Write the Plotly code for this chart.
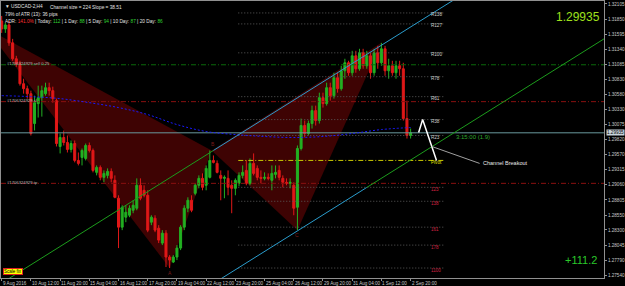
import plotly.graph_objects as go

# ---------------- data ----------------
bars = list(range(113))
date_ticks = [0, 8, 16, 24, 32, 40, 48, 56, 64, 72, 80, 88, 96, 104, 112]
date_labels = ["9 Aug 2016", "10 Aug 12:00", "11 Aug 20:00", "15 Aug 04:00", "16 Aug 12:00",
               "17 Aug 20:00", "19 Aug 04:00", "22 Aug 12:00", "23 Aug 20:00", "25 Aug 04:00",
               "26 Aug 12:00", "29 Aug 20:00", "31 Aug 04:00", "1 Sep 12:00", "2 Sep 20:00"]

opens = [1.31819, 1.31685, 1.31752, 1.31450, 1.31182, 1.31098, 1.30762, 1.30678, 1.30594, 1.30091,
         1.30427, 1.30527, 1.30594, 1.30695, 1.30645, 1.30477, 1.29705, 1.29856, 1.29772, 1.29655,
         1.29755, 1.29470, 1.29520, 1.29504, 1.29722, 1.29638, 1.29269, 1.29353, 1.29185, 1.29218,
         1.29285, 1.29135, 1.28833, 1.28346, 1.28514, 1.28547, 1.28631, 1.28665, 1.29051, 1.28967,
         1.28883, 1.28430, 1.28497, 1.28329, 1.28078, 1.28245, 1.27843, 1.27759, 1.27843, 1.27994,
         1.28346, 1.28665, 1.28799, 1.28916, 1.29051, 1.29168, 1.29051, 1.29185, 1.29470, 1.29420,
         1.29218, 1.29168, 1.29168, 1.29051, 1.29000, 1.29084, 1.29218, 1.29302, 1.29084, 1.29420,
         1.29336, 1.29185, 1.29168, 1.29185, 1.29135, 1.29235, 1.29302, 1.29168, 1.29101, 1.29084,
         1.29051, 1.28682, 1.29671, 1.30058, 1.29923, 1.30091, 1.30309, 1.30141, 1.30527, 1.30427,
         1.30695, 1.30561, 1.30863, 1.30678, 1.30980, 1.31115, 1.30947, 1.31232, 1.31014, 1.31282,
         1.31064, 1.31232, 1.30947, 1.31282, 1.31115, 1.31350, 1.30980, 1.31064, 1.30947, 1.31064,
         1.31014, 1.30175, 1.29890]
highs = [1.31903, 1.31786, 1.31819, 1.31517, 1.31232, 1.31148, 1.30846, 1.30729, 1.30645, 1.30561,
         1.30729, 1.30729, 1.30779, 1.30779, 1.30712, 1.30511, 1.29923, 1.29974, 1.29890, 1.29806,
         1.29806, 1.29604, 1.29671, 1.29755, 1.29772, 1.29671, 1.29386, 1.29386, 1.29302, 1.29336,
         1.29336, 1.29218, 1.28883, 1.28715, 1.28715, 1.28715, 1.28799, 1.29168, 1.29168, 1.29051,
         1.28967, 1.28547, 1.28547, 1.28380, 1.28296, 1.28296, 1.27876, 1.27876, 1.28044, 1.28380,
         1.28715, 1.28849, 1.28883, 1.29084, 1.29218, 1.29252, 1.29386, 1.29638, 1.29554, 1.29470,
         1.29302, 1.29218, 1.29302, 1.29135, 1.29168, 1.29269, 1.29386, 1.29470, 1.29504, 1.29588,
         1.29386, 1.29302, 1.29269, 1.29252, 1.29386, 1.29386, 1.29386, 1.29218, 1.29168, 1.29168,
         1.29101, 1.29722, 1.30175, 1.30141, 1.30141, 1.30393, 1.30393, 1.30611, 1.30611, 1.30779,
         1.30779, 1.30947, 1.30947, 1.31064, 1.31182, 1.31148, 1.31316, 1.31316, 1.31350, 1.31350,
         1.31316, 1.31282, 1.31350, 1.31400, 1.31450, 1.31400, 1.31182, 1.31148, 1.31148, 1.31148,
         1.31115, 1.30477, 1.30007]
lows = [1.31618, 1.31618, 1.31400, 1.31148, 1.31047, 1.30729, 1.30594, 1.30511, 1.29890, 1.29974,
        1.30192, 1.30208, 1.30561, 1.30561, 1.30443, 1.29705, 1.29588, 1.29722, 1.29604, 1.29604,
        1.29437, 1.29386, 1.29386, 1.29470, 1.29604, 1.29269, 1.29218, 1.29135, 1.29101, 1.29168,
        1.29101, 1.28833, 1.27994, 1.28296, 1.28430, 1.28514, 1.28581, 1.28631, 1.28799, 1.28849,
        1.28262, 1.28380, 1.28262, 1.28078, 1.28044, 1.27675, 1.27658, 1.27742, 1.27792, 1.27960,
        1.28296, 1.28598, 1.28598, 1.28883, 1.29000, 1.28967, 1.28967, 1.29168, 1.29420, 1.29252,
        1.28799, 1.28833, 1.28883, 1.28581, 1.28883, 1.29034, 1.29168, 1.29051, 1.29051, 1.29218,
        1.29135, 1.29084, 1.29135, 1.29135, 1.28967, 1.29168, 1.29135, 1.29017, 1.29051, 1.29000,
        1.28547, 1.28296, 1.29638, 1.29856, 1.29890, 1.30007, 1.30058, 1.30091, 1.30360, 1.30393,
        1.30477, 1.30511, 1.30611, 1.30645, 1.30846, 1.30896, 1.30896, 1.30947, 1.30980, 1.31014,
        1.31014, 1.30846, 1.30896, 1.31014, 1.31064, 1.30896, 1.30846, 1.30896, 1.30846, 1.30896,
        1.30141, 1.29839, 1.29839]
closes = [1.31685, 1.31752, 1.31450, 1.31182, 1.31098, 1.30762, 1.30678, 1.30594, 1.29923, 1.30443,
          1.30527, 1.30645, 1.30695, 1.30645, 1.30511, 1.29755, 1.29856, 1.29772, 1.29655, 1.29755,
          1.29470, 1.29420, 1.29638, 1.29722, 1.29638, 1.29302, 1.29353, 1.29185, 1.29252, 1.29285,
          1.29168, 1.28849, 1.28346, 1.28682, 1.28598, 1.28665, 1.28715, 1.29051, 1.28833, 1.28883,
          1.28296, 1.28514, 1.28296, 1.28128, 1.28245, 1.27843, 1.27792, 1.27843, 1.27994, 1.28346,
          1.28665, 1.28799, 1.28631, 1.29051, 1.29168, 1.29017, 1.29336, 1.29470, 1.29437, 1.29269,
          1.29168, 1.29185, 1.29017, 1.29000, 1.29135, 1.29218, 1.29269, 1.29084, 1.29420, 1.29252,
          1.29185, 1.29168, 1.29185, 1.29168, 1.29252, 1.29269, 1.29185, 1.29101, 1.29084, 1.29101,
          1.28665, 1.29671, 1.30058, 1.29923, 1.30091, 1.30309, 1.30141, 1.30527, 1.30427, 1.30695,
          1.30561, 1.30863, 1.30678, 1.30980, 1.31115, 1.30947, 1.31232, 1.31014, 1.31282, 1.31064,
          1.31232, 1.30947, 1.31282, 1.31115, 1.31350, 1.30980, 1.31064, 1.30947, 1.31064, 1.31014,
          1.30175, 1.29890, 1.29935]

ma_bars = [0, 8, 16, 24, 32, 40, 48, 56, 64, 72, 80, 88, 96, 104, 112]
ma_values = [1.30561, 1.30544, 1.30511, 1.30443, 1.30360, 1.30242, 1.30074, 1.29957, 1.29906,
             1.29873, 1.29856, 1.29873, 1.29923, 1.29990, 1.30024]

price_ticks = [1.32105, 1.31850, 1.31595, 1.31340, 1.31085, 1.30830, 1.30580, 1.30330, 1.30075,
               1.29820, 1.29570, 1.29315, 1.29060, 1.28805, 1.28550, 1.28300, 1.28045, 1.27790, 1.27540]
bid = 1.29935

fib_names = ["R138", "R127", "R100", "R78", "R61", "R38", "R23", "Pivot", "123", "138", "161", "178", "1100"]
fib_prices = [1.31954, 1.31769, 1.31282, 1.30880, 1.30544, 1.30158, 1.29890, 1.29470,
              1.29017, 1.28782, 1.28346, 1.28044, 1.27658]
fib_span = [64.8, 121.3]

order_names = ["#1706324929 sell 0.25", "#1706324929 sl", "#1706324929 tp"]
order_prices = [1.31081, 1.30460, 1.29084]
order_colors = ["#0a6a0a", "#8a1010", "#8a1010"]

# harmonic pattern points X, A, B, C, D (bar, price)
pat_x = [-4.4, 46, 57.5, 81, 104]
pat_y = [1.31702, 1.27658, 1.29638, 1.28296, 1.31450]

# channel line end points (bar, price)
up_green_x, up_green_y = [-1, 58], [1.27366, 1.29638]
up_cyan_x, up_cyan_y = [58, 124], [1.29638, 1.32180]
lo_cyan_x, lo_cyan_y = [40, 100], [1.26705, 1.29015]
lo_green_x, lo_green_y = [100, 166], [1.29015, 1.31557]

zig_x, zig_y = [114.2, 115.3, 119.1], [1.29940, 1.30158, 1.29470]
ptr_x, ptr_y = [117.8, 130.9], [1.29705, 1.29420]

Y0, Y1 = 1.27490, 1.32155
X0, X1 = -0.19, 164.97

GREEN = "#22b022"
RED = "#e01818"
FONT = "Liberation Sans"

fig = go.Figure()

# fib levels
for name, p in zip(fib_names, fib_prices):
    if name == "Pivot":
        ln = dict(color="#c8c800", width=1, dash="5px,2px,1px,2px")
    else:
        ln = dict(color="#5a5a5a", width=1, dash="1px,2px")
    fig.add_trace(go.Scatter(x=fib_span, y=[p, p], mode="lines", line=ln,
                             hoverinfo="skip", showlegend=False))

# order lines
for p, c in zip(order_prices, order_colors):
    fig.add_trace(go.Scatter(x=[X0, X1], y=[p, p], mode="lines",
                             line=dict(color=c, width=1, dash="5px,2px,1px,2px"),
                             hoverinfo="skip", showlegend=False))

# bid line
fig.add_trace(go.Scatter(x=[X0, X1], y=[bid, bid], mode="lines",
                         line=dict(color="#6a9a9e", width=1), hoverinfo="skip", showlegend=False))

# moving average
fig.add_trace(go.Scatter(x=ma_bars, y=ma_values, mode="lines",
                         line=dict(color="#1a1aff", width=1, dash="2px,2px", shape="spline"),
                         hoverinfo="skip", showlegend=False))

# candles
fig.add_trace(go.Candlestick(x=bars, open=opens, high=highs, low=lows, close=closes,
                             increasing=dict(line=dict(color=GREEN, width=1), fillcolor=GREEN),
                             decreasing=dict(line=dict(color=RED, width=1), fillcolor=RED),
                             whiskerwidth=0, showlegend=False, hoverinfo="skip"))

# channel lines
for xs, ys, c in ((up_green_x, up_green_y, "#1c9c1c"), (up_cyan_x, up_cyan_y, "#2a9ccc"),
                  (lo_cyan_x, lo_cyan_y, "#2a9ccc"), (lo_green_x, lo_green_y, "#1c9c1c")):
    fig.add_trace(go.Scatter(x=xs, y=ys, mode="lines", line=dict(color=c, width=1),
                             hoverinfo="skip", showlegend=False))

# breakout drawing
fig.add_trace(go.Scatter(x=zig_x, y=zig_y, mode="lines", line=dict(color="#ffffff", width=1.5),
                         hoverinfo="skip", showlegend=False))
fig.add_trace(go.Scatter(x=ptr_x, y=ptr_y, mode="lines", line=dict(color="#a0a0a0", width=1),
                         hoverinfo="skip", showlegend=False))

# pattern triangles, drawn beneath the candles
shapes = []
for idx in ([0, 1, 2], [2, 3, 4]):
    path = "M " + " L ".join(f"{pat_x[i]},{pat_y[i]}" for i in idx) + " Z"
    shapes.append(dict(type="path", path=path, xref="x", yref="y", layer="below",
                       fillcolor="#3e0303", line=dict(width=0)))

ann = []
for b, lab in zip(date_ticks, date_labels):
    ann.append(dict(x=b, y=0, xref="x", yref="paper", text=lab, showarrow=False,
                    xanchor="left", yanchor="top", xshift=-1, yshift=-1,
                    font=dict(family=FONT, size=4.6, color="#c8c8c8")))
for name, p in zip(fib_names, fib_prices):
    if name == "Pivot":
        col = "#e0e000"
    elif name.startswith("R"):
        col = "#d0d0d0"
    else:
        col = "#d02040"
    ann.append(dict(x=116.9, y=p, xref="x", yref="y", text=name, showarrow=False,
                    xanchor="left", yanchor="middle", yshift=-2,
                    font=dict(family=FONT, size=4.6, color=col)))
for name, p in zip(order_names, order_prices):
    ann.append(dict(x=0.8, y=p, xref="x", yref="y", text=name, showarrow=False,
                    xanchor="left", yanchor="middle", yshift=1,
                    font=dict(family=FONT, size=4.2, color="#b8b8b8")))
for lab, bx, py, ys in (("A", 46, 1.27658, -5), ("B", 58, 1.29638, 6), ("C", 81, 1.28296, -5)):
    ann.append(dict(x=bx, y=py, xref="x", yref="y", text=lab, showarrow=False,
                    yshift=ys, font=dict(family=FONT, size=5, color="#7a1a1a")))

ann += [
    dict(x=0.003, y=1, xref="paper", yref="paper", xanchor="left", yanchor="top", yshift=-1,
         text="▼ USDCAD-2,H4", showarrow=False, font=dict(family=FONT, size=4.75, color="#e0e0e0")),
    dict(x=47 / 605, y=1, xref="paper", yref="paper", xanchor="left", yanchor="top", yshift=-2,
         text="Channel size = 224 Slope = 38.51", showarrow=False,
         font=dict(family=FONT, size=4.75, color="#e0e0e0")),
    dict(x=0.003, y=1, xref="paper", yref="paper", xanchor="left", yanchor="top", yshift=-9,
         text="79% of ATR (13): 36 pips", showarrow=False,
         font=dict(family=FONT, size=4.75, color="#e0e0e0")),
    dict(x=0.003, y=1, xref="paper", yref="paper", xanchor="left", yanchor="top", yshift=-16,
         text=("ADR: <span style='color:#ff3030'>141.0%</span> | Today: "
               "<span style='color:#30d030'>112</span> | 1 Day: <span style='color:#30d030'>88</span>"
               " | 5 Day: <span style='color:#30d030'>94</span> | 10 Day: "
               "<span style='color:#30d030'>87</span> | 20 Day: <span style='color:#30d030'>86</span>"),
         showarrow=False, font=dict(family=FONT, size=4.75, color="#e0e0e0")),
    dict(x=603 / 605, y=1 - 16 / 278, xref="paper", yref="paper", xanchor="right", yanchor="middle",
         text="1.29935", showarrow=False, font=dict(family=FONT, size=12, color="#9ee01c")),
    dict(x=600 / 605, y=1 - 260 / 278, xref="paper", yref="paper", xanchor="right", yanchor="middle",
         text="+111.2", showarrow=False, font=dict(family=FONT, size=11, color="#2ac82a")),
    dict(x=123.8, y=1.29873, xref="x", yref="y", xanchor="left", yanchor="middle",
         text="3:15:00 (1.9)", showarrow=False, font=dict(family=FONT, size=6, color="#30a830")),
    dict(x=131.4, y=1.29420, xref="x", yref="y", xanchor="left", yanchor="middle",
         text="Channel Breakout", showarrow=False, font=dict(family=FONT, size=5.5, color="#e8e8e8")),
    dict(x=2 / 605, y=1 - 271 / 278, xref="paper", yref="paper", xanchor="left", yanchor="middle",
         text="Scale fix", showarrow=False, bgcolor="#ffff00", bordercolor="#e02020", borderwidth=1,
         borderpad=0, font=dict(family=FONT, size=4.5, color="#000000")),
    dict(x=1, y=bid, xref="paper", yref="y", xanchor="left", yanchor="middle", xshift=2,
         text="1.29935", showarrow=False, bgcolor="#c8d4dc", borderpad=0,
         font=dict(family=FONT, size=4.6, color="#000000")),
]

fig.update_layout(
    width=625, height=286, margin=dict(l=0, r=20, t=0, b=8),
    paper_bgcolor="#000000", plot_bgcolor="#000000",
    showlegend=False, annotations=ann, shapes=shapes,
    boxgap=0.45, boxgroupgap=0,
    xaxis=dict(range=[X0, X1], showgrid=False, zeroline=False, showticklabels=False,
               tickvals=date_ticks, ticks="outside", ticklen=2, tickcolor="#909090",
               showline=True, linecolor="#909090", linewidth=1, mirror=True,
               rangeslider=dict(visible=False)),
    yaxis=dict(range=[Y0, Y1], side="right", showgrid=False, zeroline=False,
               tickvals=price_ticks, ticktext=[f"{v:.5f}" for v in price_ticks],
               ticks="outside", ticklen=2, tickcolor="#909090",
               tickfont=dict(family=FONT, size=4.6, color="#c8c8c8"),
               showline=True, linecolor="#909090", linewidth=1, mirror=True),
)

fig.write_html("out.html")
